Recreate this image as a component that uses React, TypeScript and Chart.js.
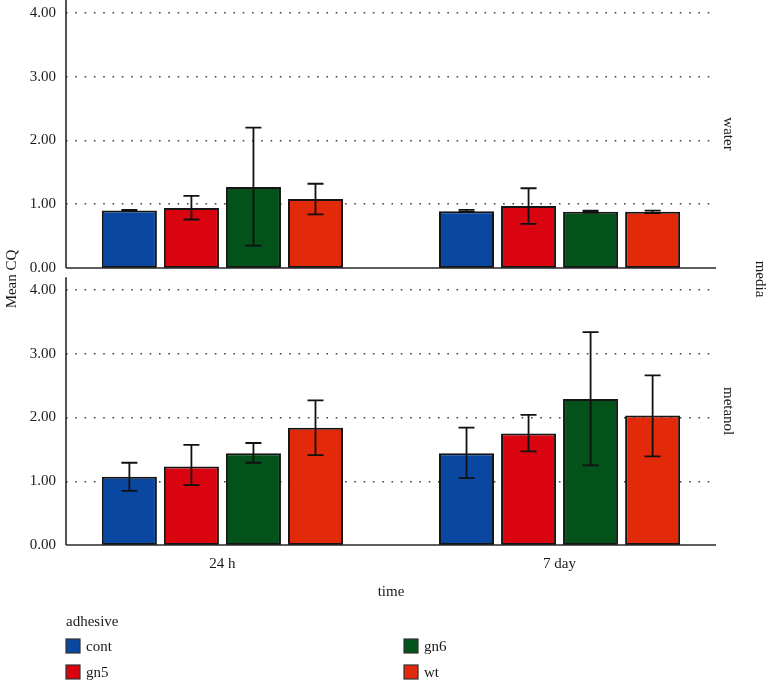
import React, { useEffect, useRef } from 'react';
import { Chart, registerables } from 'chart.js';

Chart.register(...registerables);

// ---- data ----
const times = ['24 h', '7 day'];
const adhesives = ['cont', 'gn5', 'gn6', 'wt'];
const colors = ['#0a47a1', '#d9040f', '#02521a', '#e2290a'];
const yTicks = [0, 1, 2, 3, 4];

// water panel: [24 h, 7 day] per adhesive
const waterCont = [0.9, 0.89];
const waterGn5 = [0.94, 0.97];
const waterGn6 = [1.27, 0.88];
const waterWt = [1.08, 0.88];
const waterLow = [[0.89, 0.88], [0.76, 0.69], [0.35, 0.87], [0.84, 0.86]];
const waterHigh = [[0.91, 0.91], [1.13, 1.25], [2.2, 0.9], [1.32, 0.9]];

// metanol panel
const metanolCont = [1.07, 1.44];
const metanolGn5 = [1.23, 1.75];
const metanolGn6 = [1.44, 2.29];
const metanolWt = [1.84, 2.03];
const metanolLow = [[0.85, 1.05], [0.94, 1.47], [1.29, 1.25], [1.41, 1.39]];
const metanolHigh = [[1.29, 1.84], [1.57, 2.04], [1.6, 3.34], [2.27, 2.66]];

const FONT = '"Liberation Serif", "Times New Roman", serif';
const TEXT = '#1a1a1a';
const AXIS_TOP = 4.2;

const panels = [
  { name: 'water', axis: 'yWater', means: [waterCont, waterGn5, waterGn6, waterWt], low: waterLow, high: waterHigh },
  { name: 'metanol', axis: 'yMetanol', means: [metanolCont, metanolGn5, metanolGn6, metanolWt], low: metanolLow, high: metanolHigh },
];

const extrasPlugin = {
  id: 'extras',
  afterDatasetsDraw(chart: any) {
    const ctx = chart.ctx;
    const area = chart.chartArea;
    // error bars
    chart.data.datasets.forEach((ds: any, di: number) => {
      const meta = chart.getDatasetMeta(di);
      const ys = chart.scales[ds.yAxisID];
      meta.data.forEach((el: any, j: number) => {
        const x = el.x;
        const yl = ys.getPixelForValue(ds.errLow[j]);
        const yh = ys.getPixelForValue(ds.errHigh[j]);
        ctx.save();
        ctx.strokeStyle = '#111';
        ctx.lineWidth = 1.8;
        ctx.beginPath();
        ctx.moveTo(x, yl);
        ctx.lineTo(x, yh);
        ctx.moveTo(x - 8, yl);
        ctx.lineTo(x + 8, yl);
        ctx.moveTo(x - 8, yh);
        ctx.lineTo(x + 8, yh);
        ctx.stroke();
        ctx.restore();
      });
    });
    // axis lines per panel
    panels.forEach((p) => {
      const s = chart.scales[p.axis];
      const y0 = s.getPixelForValue(0);
      const yt = s.getPixelForValue(AXIS_TOP);
      ctx.save();
      ctx.strokeStyle = '#2a2a2a';
      ctx.lineWidth = 1.6;
      ctx.beginPath();
      ctx.moveTo(area.left, yt);
      ctx.lineTo(area.left, y0);
      ctx.moveTo(area.left, y0);
      ctx.lineTo(area.right, y0);
      ctx.stroke();
      ctx.restore();
    });
  },
  afterDraw(chart: any) {
    const ctx = chart.ctx;
    const area = chart.chartArea;
    ctx.save();
    ctx.fillStyle = TEXT;
    ctx.font = `15px ${FONT}`;
    ctx.textBaseline = 'middle';
    ctx.textAlign = 'center';
    // x title
    ctx.fillText('time', (area.left + area.right) / 2, 592);
    // y title
    ctx.save();
    ctx.translate(12, 279);
    ctx.rotate(-Math.PI / 2);
    ctx.fillText('Mean CQ', 0, 0);
    ctx.restore();
    // panel labels
    panels.forEach((p) => {
      const s = chart.scales[p.axis];
      const yc = (s.getPixelForValue(AXIS_TOP) + s.getPixelForValue(0)) / 2;
      ctx.save();
      ctx.translate(area.right + 12, yc);
      ctx.rotate(Math.PI / 2);
      ctx.fillText(p.name, 0, 0);
      ctx.restore();
    });
    ctx.save();
    ctx.translate(760, 279);
    ctx.rotate(Math.PI / 2);
    ctx.fillText('media', 0, 0);
    ctx.restore();
    // legend
    ctx.textAlign = 'left';
    ctx.fillText('adhesive', 66, 622);
    adhesives.forEach((a, i) => {
      const col = i < 2 ? 0 : 1;
      const row = i % 2;
      const bx = col === 0 ? 66 : 404;
      const by = 639 + row * 26;
      ctx.fillStyle = colors[i];
      ctx.fillRect(bx, by, 14, 14);
      ctx.strokeStyle = '#333';
      ctx.lineWidth = 1.2;
      ctx.strokeRect(bx, by, 14, 14);
      ctx.fillStyle = TEXT;
      ctx.fillText(a, bx + 20, by + 8);
    });
    ctx.restore();
  },
};

function yScale(stackWeight: number, weight: number, max: number) {
  return {
    type: 'linear',
    position: 'left',
    stack: 'media',
    stackWeight,
    weight,
    stacked: false,
    min: 0,
    max,
    afterBuildTicks: (s: any) => {
      s.ticks = yTicks.map((v) => ({ value: v }));
    },
    afterFit: (s: any) => {
      s.width = 66;
      s.paddingTop = 0;
      s.paddingBottom = 0;
    },
    ticks: {
      callback: (v: number) => Number(v).toFixed(2),
      padding: 10,
      color: TEXT,
      font: { family: FONT, size: 15 },
    },
    grid: {
      drawTicks: false,
      color: '#444',
      lineWidth: (c: any) => (c.tick && c.tick.value === 0 ? 0 : 1.4),
    },
    border: { display: false, dash: [1.6, 7.7] },
  };
}

export default function App() {
  const ref = useRef<HTMLCanvasElement | null>(null);
  useEffect(() => {
    if (!ref.current) return;
    const datasets = panels.flatMap((p) =>
      adhesives.map((a, i) => ({
        type: 'bar',
        label: a,
        yAxisID: p.axis,
        xAxisID: 'x',
        stack: a,
        data: times.map((_, j) => ({ x: j, y: p.means[i][j] })),
        errLow: p.low[i],
        errHigh: p.high[i],
        backgroundColor: colors[i],
        borderColor: '#151515',
        borderWidth: 2,
        borderSkipped: false,
        categoryPercentage: 0.736,
        barPercentage: 0.887,
      }))
    );
    const chart = new Chart(ref.current, {
      type: 'bar',
      data: { datasets: datasets as any },
      plugins: [extrasPlugin],
      options: {
        responsive: false,
        animation: false,
        layout: { padding: { left: 0, right: 52, top: 0, bottom: 0 } },
        plugins: { legend: { display: false }, tooltip: { enabled: false } },
        scales: {
          x: {
            type: 'linear',
            min: -0.464,
            max: 1.464,
            offset: false,
            afterBuildTicks: (s: any) => {
              s.ticks = times.map((_, j) => ({ value: j }));
            },
            afterFit: (s: any) => {
              s.height = 137;
              s.paddingLeft = 0;
              s.paddingRight = 0;
            },
            ticks: {
              callback: (v: number) => times[v] ?? '',
              padding: 10,
              autoSkip: false,
              maxRotation: 0,
              color: TEXT,
              font: { family: FONT, size: 15 },
            },
            grid: { display: false, drawTicks: false },
            border: { display: false },
          },
          yWater: yScale(268, 2, AXIS_TOP),
          yMetanol: yScale(277, 1, 4.345),
        } as any,
      },
    } as any);
    return () => chart.destroy();
  }, []);
  return (
    <div style={{ position: 'fixed', left: 0, top: 0, width: 768, height: 682, background: '#fff' }}>
      <canvas ref={ref} width={768} height={682} style={{ width: 768, height: 682, display: 'block' }} />
    </div>
  );
}
